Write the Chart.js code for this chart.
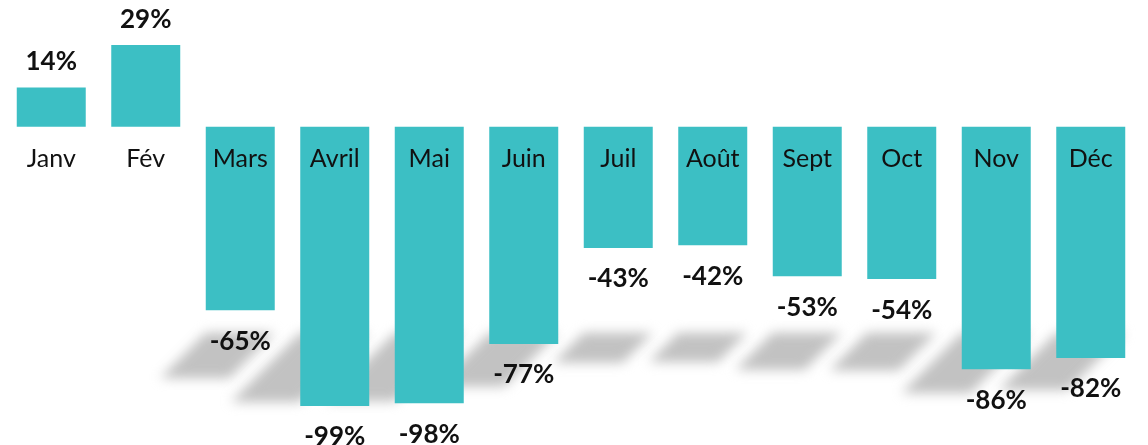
<!DOCTYPE html>
<html>
<head>
<meta charset="utf-8">
<script src="https://cdn.jsdelivr.net/npm/chart.js@4"></script>
<style>
  html, body { margin: 0; padding: 0; background: #fff; }
  #wrap { width: 1148px; height: 445px; }
</style>
</head>
<body>
<div id="wrap"><canvas id="evolution"></canvas></div>
<script>
var months = ['Janv', 'Fév', 'Mars', 'Avril', 'Mai', 'Juin', 'Juil', 'Août', 'Sept', 'Oct', 'Nov', 'Déc'];
var variation = [14, 29, -65, -99, -98, -77, -43, -42, -53, -54, -86, -82];

var teal = '#3CBFC4';

// soft slanted floor shadow behind the negative bars
var shadowPlugin = {
  id: 'barShadows',
  beforeDatasetsDraw: function(chart) {
    var ctx = chart.ctx;
    var y = chart.scales.y;
    var meta = chart.getDatasetMeta(0);
    ctx.save();
    ctx.filter = 'blur(6px)';
    ctx.fillStyle = '#c2c2c2';
    meta.data.forEach(function(bar, i) {
      var v = variation[i];
      if (v >= 0) return;
      var top = y.getPixelForValue(-73);
      var h = Math.abs(v) * 0.7;
      var left = bar.x - bar.width / 2;
      var right = bar.x + bar.width / 2;
      ctx.beginPath();
      ctx.moveTo(left, top);
      ctx.lineTo(right, top);
      ctx.lineTo(right - h, top + h);
      ctx.lineTo(left - h, top + h);
      ctx.closePath();
      ctx.fill();
    });
    ctx.restore();
  }
};

// month names and percentage labels
var labelPlugin = {
  id: 'barLabels',
  afterDatasetsDraw: function(chart) {
    var ctx = chart.ctx;
    var y = chart.scales.y;
    var meta = chart.getDatasetMeta(0);
    ctx.save();
    ctx.fillStyle = '#111';
    ctx.textAlign = 'center';
    meta.data.forEach(function(bar, i) {
      var v = variation[i];
      ctx.font = '25px Lato';
      ctx.textBaseline = 'middle';
      ctx.fillText(months[i], bar.x, y.getPixelForValue(-11.5));

      ctx.font = 'bold 26px Lato';
      if (v >= 0) {
        ctx.textBaseline = 'alphabetic';
        ctx.fillText(v + '%', bar.x, bar.y - 17);
      } else {
        ctx.textBaseline = 'top';
        ctx.fillText(v + '%', bar.x, bar.y + 18);
      }
    });
    ctx.restore();
  }
};

new Chart(document.getElementById('evolution'), {
  type: 'bar',
  data: {
    labels: months,
    datasets: [{
      data: variation,
      backgroundColor: teal,
      borderWidth: 0,
      categoryPercentage: 1,
      barPercentage: 0.73
    }]
  },
  options: {
    responsive: true,
    maintainAspectRatio: false,
    animation: false,
    layout: { padding: { top: 0, bottom: 8, left: 4, right: 10 } },
    plugins: {
      legend: { display: false },
      tooltip: { enabled: false }
    },
    scales: {
      x: { display: false },
      y: { display: false, min: -110, max: 45 }
    }
  },
  plugins: [shadowPlugin, labelPlugin]
});
</script>
</body>
</html>
